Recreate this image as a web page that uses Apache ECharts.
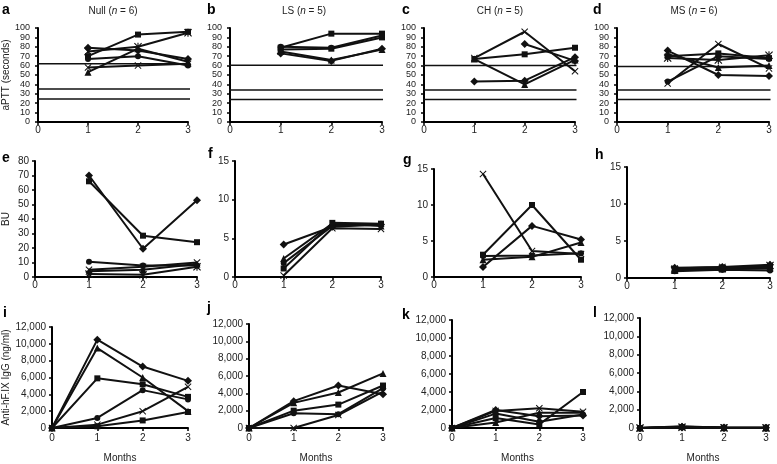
<!DOCTYPE html>
<html><head><meta charset="utf-8">
<script src="https://cdn.jsdelivr.net/npm/echarts@6/dist/echarts.min.js"></script>
<style>html,body{margin:0;padding:0;background:#fff}#c{width:777px;height:464px}</style>
</head><body><div id="c"></div>
<script>
const FONT = '"Liberation Sans", Arial, Helvetica, sans-serif';

// ---- x values ----
const monthsTop = [1, 2, 3];
const monthsAb = [0, 1, 2, 3];

// ---- group titles ----
const groupNames = ['Null', 'LS', 'CH', 'MS'];
const groupN = [6, 5, 5, 6];
const panelLetters = ['a','b','c','d','e','f','g','h','i','j','k','l'];

// ---- aPTT (seconds) per mouse ----
const aptt_Null = [[70, 93, 96], [75, 80, 95], [79, 76, 67], [53, 78, 64], [58, 60, 62], [67, 70, 60]];
const aptt_LS   = [[79, 94, 94], [77, 78, 90], [73, 65, 78], [75, 66, 77], [80, 79, 92]];
const aptt_CH   = [[68, 96, 54], [67, 72, 79], [67, 40, 66], [43, 44, 69], [null, 83, 65]];
const aptt_MS   = [[41, 83, 57], [43, 70, 67], [76, 50, 49], [70, 73, 68], [72, 58, 60], [68, 66, 71]];
// reference (normal range) lines
const apttRef_Null = [62, 35, 24.5];
const apttRef_LS   = [60.5, 34, 24];
const apttRef_CH   = [60, 34, 24];
const apttRef_MS   = [59, 34, 24];

// ---- Bethesda units ----
const bu_Null = [[70, 19.5, 53], [66, 28.5, 24], [10.5, 8, 8], [5, 7, 10], [4, 5, 9], [2, 1.5, 7]];
const bu_LS   = [[4.2, 6.5, 6.8], [2.4, 6.9, 6.6], [1.8, 6.6, 6.8], [1.1, 7.0, 6.9], [0.2, 6.3, 6.2]];
const bu_CH   = [[14.3, 3.6, 3.2], [3.1, 10, 2.4], [1.4, 7.1, 5.2], [2.4, 2.8, 4.8], [2.9, 3.0, 3.3]];
const bu_MS   = [[1.4, 1.5, 1.8], [1.2, 1.4, 1.6], [1.0, 1.2, 1.3], [0.9, 1.1, 1.0], [1.3, 1.5, 1.4], [1.1, 1.3, 1.7]];

// ---- Anti-hF.IX IgG (ng/ml) ----
const igg_Null = [[0, 10500, 7300, 5600], [0, 9500, 6000, 2000], [0, 5900, 5200, 3700], [0, 1200, 4500, 3400], [0, 400, 2000, 4900], [0, 200, 900, 1900]];
const igg_LS   = [[0, 2900, 4100, 6300], [0, 3100, 4900, 3900], [0, 2000, 2700, 4900], [0, 1700, 1600, 4600], [0, 0, 1500, 4200]];
const igg_CH   = [[0, 1100, 400, 4000], [0, 1900, 2200, 1800], [0, 2000, 1300, 1400], [0, 600, 1700, 1700], [0, 1600, 700, 1500]];
const igg_MS   = [[0, 150, 50, 20], [0, 100, 30, 30], [0, 200, 40, 10], [0, 50, 20, 20], [0, 120, 60, 40], [0, 80, 10, 10]];

// ---- axis ranges [min, max, interval] ----
const apttAxis = [0, 100, 10];
const buNullAxis = [0, 80, 10];
const buAxis = [0, 15, 5];
const iggAxis = [0, 12000, 2000];

// ---------------- styling / layout ----------------
const SYM = {
  diamond: 'diamond', square: 'rect', triangle: 'triangle', circle: 'circle',
  x: 'path://M1,0L5,4L9,0L10,1L6,5L10,9L9,10L5,6L1,10L0,9L4,5L0,1Z',
  star: 'path://M1,0L5,4L9,0L10,1L6,5L10,9L9,10L5,6L1,10L0,9L4,5L0,1ZM4.3,0L5.7,0L5.7,10L4.3,10Z'
};
const SIZE = { diamond: 8, square: 6, triangle: 7, circle: 6, x: 7, star: 8 };

const panels = [
  { grid: { left: 36, top: 28, width: 152, height: 94 },  rows: aptt_Null, xs: monthsTop, axis: apttAxis, refs: apttRef_Null, refX: [-0.71, 3.04], mk: ['square','star','diamond','triangle','x','circle'] },
  { grid: { left: 230, top: 28, width: 152, height: 94 }, rows: aptt_LS, xs: monthsTop, axis: apttAxis, refs: apttRef_LS, refX: [-0.16, 3.02], mk: ['square','square','diamond','triangle','circle'] },
  { grid: { left: 424, top: 28, width: 151, height: 94 }, rows: aptt_CH, xs: monthsTop, axis: apttAxis, refs: apttRef_CH, refX: [-0.78, 3.03], mk: ['x','square','triangle','diamond','diamond'] },
  { grid: { left: 617, top: 28, width: 152, height: 94 }, rows: aptt_MS, xs: monthsTop, axis: apttAxis, refs: apttRef_MS, refX: [-0.69, 3.03], mk: ['x','circle','diamond','square','triangle','star'] },
  { grid: { left: 33, top: 161, width: 164, height: 116 }, rows: bu_Null, xs: monthsTop, axis: buNullAxis, mk: ['diamond','square','circle','x','triangle','star'] },
  { grid: { left: 235, top: 161, width: 146, height: 116 }, rows: bu_LS, xs: monthsTop, axis: buAxis, mk: ['diamond','triangle','circle','square','x'] },
  { grid: { left: 434, top: 169, width: 147, height: 108 }, rows: bu_CH, xs: monthsTop, axis: buAxis, mk: ['x','square','diamond','triangle','circle'] },
  { grid: { left: 627, top: 167, width: 143, height: 111 }, rows: bu_MS, xs: monthsTop, axis: buAxis, mk: ['diamond','square','triangle','circle','x','star'] },
  { grid: { left: 50, top: 327, width: 138, height: 106 }, rows: igg_Null, xs: monthsAb, axis: iggAxis, mk: ['diamond','triangle','square','circle','x','square'] },
  { grid: { left: 249, top: 324, width: 134, height: 109 }, rows: igg_LS, xs: monthsAb, axis: iggAxis, mk: ['triangle','diamond','square','circle','x'] },
  { grid: { left: 452, top: 320, width: 131, height: 114 }, rows: igg_CH, xs: monthsAb, axis: iggAxis, mk: ['square','x','diamond','triangle','circle'] },
  { grid: { left: 640, top: 318, width: 126, height: 115 }, rows: igg_MS, xs: monthsAb, axis: iggAxis, mk: ['diamond','square','triangle','circle','x','star'] }
];

const yNames = { 0: ['aPTT (seconds)', 27], 4: ['BU', 24], 8: ['Anti-hF.IX IgG (ng/ml)', 41] };
const letterPos = [[2,10],[207,10],[402,10],[593,10],[2,158],[208,154],[403,160],[595,155],[3,313],[207,308],[402,315],[593,313]];
const titleCenters = [113, 304, 500, 694];

const grids = [], xAxes = [], yAxes = [], series = [];
const fmtThousands = v => String(v).replace(/\B(?=(\d{3})+(?!\d))/g, ',');

panels.forEach((p, gi) => {
  grids.push(Object.assign({ containLabel: false }, p.grid));
  const row = gi < 4 ? 0 : gi < 8 ? 1 : 2;
  xAxes.push({
    gridIndex: gi, type: 'value', min: 0, max: 3, interval: 1,
    name: row === 2 ? 'Months' : '', nameLocation: 'middle', nameGap: 25,
    nameTextStyle: { fontSize: 10, fontFamily: FONT, color: '#222' },
    axisLine: { show: true, onZero: false, lineStyle: { color: '#000', width: 2 } },
    axisTick: { show: true, length: 3, lineStyle: { color: '#000', width: 1.5 } },
    axisLabel: { fontSize: 10, margin: row === 2 ? 5 : 3, color: '#222', fontFamily: FONT },
    splitLine: { show: false }
  });
  const yn = yNames[gi];
  yAxes.push({
    gridIndex: gi, type: 'value', min: p.axis[0], max: p.axis[1], interval: p.axis[2],
    name: yn ? yn[0] : '', nameLocation: 'middle', nameRotate: 90, nameGap: yn ? yn[1] : 0,
    nameTextStyle: { fontSize: 10, fontFamily: FONT, color: '#222' },
    axisLine: { show: true, onZero: false, lineStyle: { color: '#000', width: 2 } },
    axisTick: { show: true, length: 3, lineStyle: { color: '#000', width: 1.5 } },
    axisLabel: { fontSize: row === 0 ? 9 : 10, margin: row === 0 ? 8 : 6, color: '#222', fontFamily: FONT,
      formatter: row === 2 ? fmtThousands : null },
    splitLine: { show: false }
  });
  if (p.refs) {
    p.refs.forEach(v => series.push({
      type: 'line', xAxisIndex: gi, yAxisIndex: gi, silent: true, clip: false,
      data: [[p.refX[0], v], [p.refX[1], v]], symbol: 'none',
      lineStyle: { color: '#111', width: 1.5 }, z: 2
    }));
  }
  p.rows.forEach((vals, k) => {
    const m = p.mk[k];
    series.push({
      type: 'line', xAxisIndex: gi, yAxisIndex: gi, clip: false,
      data: vals.map((v, j) => [p.xs[j], v]),
      symbol: SYM[m], symbolSize: SIZE[m], showSymbol: true,
      lineStyle: { color: '#111', width: 2 }, itemStyle: { color: '#111' }, z: 3
    });
  });
});

const titles = groupNames.map((g, i) => ({
  text: g + ' ({i|n} = ' + groupN[i] + ')',
  left: titleCenters[i], top: 6, textAlign: 'center', padding: 0,
  textStyle: { fontSize: 10, fontWeight: 'normal', fontFamily: FONT, color: '#222',
    rich: { i: { fontSize: 10, fontStyle: 'italic', fontFamily: FONT, color: '#222' } } }
}));

const graphics = panelLetters.map((t, i) => ({
  type: 'text', style: { x: letterPos[i][0], y: letterPos[i][1], text: t, fill: '#000',
    font: 'bold 14px ' + FONT, verticalAlign: 'middle', align: 'left' }
}));

const chart = echarts.init(document.getElementById('c'), null, { renderer: 'canvas' });
chart.setOption({
  animation: false, backgroundColor: '#fff',
  title: titles, grid: grids, xAxis: xAxes, yAxis: yAxes, series: series, graphic: graphics
});
</script></body></html>
